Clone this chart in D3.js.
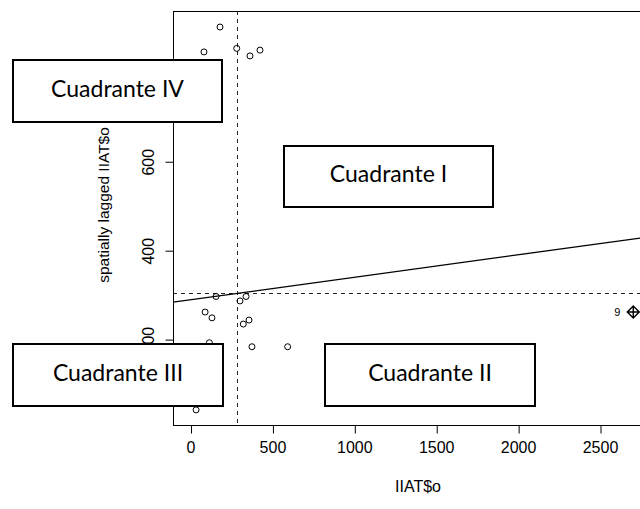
<!DOCTYPE html>
<html>
<head>
<meta charset="utf-8">
<script src="https://cdn.jsdelivr.net/npm/d3@7"></script>
<style>
  html, body { margin: 0; padding: 0; background: #fff; }
  svg { display: block; }
</style>
</head>
<body>
<svg id="chart" width="640" height="509"></svg>
<script>
// Moran scatterplot: IIAT$o against its spatial lag
const xValues   = [180, 82, 282, 363, 424, 156, 302, 339, 89, 131, 322, 357, 375, 593, 115, 34];
const lagValues = [903, 847, 855, 838, 851, 297, 287, 297, 262, 249, 235, 244, 184, 184, 193, 42];

// influential observation, drawn with its own symbol and id
const influentialX = [2703];
const influentialLag = [262];
const influentialIds = ["9"];

const meanX = 284;
const meanLag = 305.5;
const fitIntercept = 289.5;
const fitSlope = 0.0506;

const xTicks = [0, 500, 1000, 1500, 2000, 2500];
const yTicks = [200, 400, 600];
const xTitle = "IIAT$o";
const yTitle = "spatially lagged IIAT$o";

const quadrants = [
  { label: "Cuadrante IV",  x0: 13,  x1: 222, y0: 60,  y1: 122 },
  { label: "Cuadrante I",   x0: 284, x1: 493, y0: 146, y1: 207 },
  { label: "Cuadrante III", x0: 13,  x1: 223, y0: 344, y1: 406 },
  { label: "Cuadrante II",  x0: 325, x1: 535, y0: 344, y1: 406 }
];

const svg = d3.select("#chart");
const plotLeft = 173, plotRight = 648, plotTop = 11, plotBottom = 425;

const x = d3.scaleLinear().domain([-107, 2793]).range([plotLeft, plotRight]);
const y = d3.scaleLinear().domain([8, 939]).range([plotBottom, plotTop]);

const axisFont = "'Liberation Sans', Arial, sans-serif";

svg.append("rect").attr("width", 640).attr("height", 509).attr("fill", "#fff");

const clip = svg.append("defs").append("clipPath").attr("id", "plotclip");
clip.append("rect").attr("x", plotLeft).attr("y", plotTop)
  .attr("width", plotRight - plotLeft).attr("height", plotBottom - plotTop);

const plot = svg.append("g").attr("clip-path", "url(#plotclip)");

// reference lines at the means
plot.append("line")
  .attr("x1", Math.round(x(meanX)) + 0.5).attr("x2", Math.round(x(meanX)) + 0.5)
  .attr("y1", plotTop).attr("y2", plotBottom)
  .attr("stroke", "#222").attr("stroke-width", 1).attr("stroke-dasharray", "4,4");
plot.append("line")
  .attr("x1", plotLeft).attr("x2", plotRight)
  .attr("y1", Math.round(y(meanLag)) + 0.5).attr("y2", Math.round(y(meanLag)) + 0.5)
  .attr("stroke", "#222").attr("stroke-width", 1).attr("stroke-dasharray", "4,4");

// fitted regression line
const xd = x.domain();
plot.append("line")
  .attr("x1", x(xd[0])).attr("y1", y(fitIntercept + fitSlope * xd[0]))
  .attr("x2", x(xd[1])).attr("y2", y(fitIntercept + fitSlope * xd[1]))
  .attr("stroke", "#000").attr("stroke-width", 1.2);

// observations
plot.selectAll("circle.obs")
  .data(xValues.map((v, i) => [v, lagValues[i]]))
  .join("circle")
  .attr("class", "obs")
  .attr("cx", d => x(d[0])).attr("cy", d => y(d[1]))
  .attr("r", 3)
  .attr("fill", "none").attr("stroke", "#000").attr("stroke-width", 1);

// influential point: diamond with cross
const infl = influentialX.map((v, i) => ({ x: v, y: influentialLag[i], id: influentialIds[i] }));
const dg = svg.selectAll("g.infl").data(infl).join("g")
  .attr("class", "infl")
  .attr("transform", d => `translate(${x(d.x)},${y(d.y)})`);
const s = 6;
dg.append("path")
  .attr("d", `M0,${-s}L${s},0L0,${s}L${-s},0Z M0,${-s}V${s} M${-s},0H${s}`)
  .attr("fill", "none").attr("stroke", "#000").attr("stroke-width", 1.4);
dg.append("text")
  .attr("x", -13).attr("y", 4)
  .attr("text-anchor", "end")
  .attr("font-family", axisFont).attr("font-size", 11)
  .text(d => d.id);

// plot frame
svg.append("rect")
  .attr("x", plotLeft + 0.5).attr("y", plotTop + 0.5)
  .attr("width", plotRight - plotLeft).attr("height", plotBottom - plotTop)
  .attr("fill", "none").attr("stroke", "#000").attr("stroke-width", 1);

// x axis
const xAxis = svg.append("g")
  .attr("transform", `translate(0,${plotBottom + 0.5})`)
  .call(d3.axisBottom(x).tickValues(xTicks).tickSize(8).tickPadding(8).tickFormat(d3.format("d")));
xAxis.select(".domain").remove();
xAxis.selectAll("line").attr("stroke", "#000").attr("transform", "translate(0.5,0)");
xAxis.selectAll("text").attr("font-family", axisFont).attr("font-size", 16).attr("fill", "#000");

// y axis, labels parallel to the axis
const yAxis = svg.append("g")
  .attr("transform", `translate(${plotLeft + 0.5},0)`)
  .call(d3.axisLeft(y).tickValues(yTicks).tickSize(8).tickFormat(d3.format("d")));
yAxis.select(".domain").remove();
yAxis.selectAll("line").attr("stroke", "#000");
yAxis.selectAll("text")
  .attr("font-family", axisFont).attr("font-size", 16).attr("fill", "#000")
  .attr("x", null).attr("dy", null)
  .attr("text-anchor", "middle")
  .attr("transform", "translate(-20,0) rotate(-90)");

// axis titles
svg.append("text")
  .attr("x", 418).attr("y", 492)
  .attr("text-anchor", "middle")
  .attr("font-family", axisFont).attr("font-size", 16)
  .text(xTitle);
svg.append("text")
  .attr("transform", "translate(109,205) rotate(-90)")
  .attr("text-anchor", "middle")
  .attr("font-family", axisFont).attr("font-size", 15.5)
  .text(yTitle);

// quadrant annotation boxes
const qg = svg.selectAll("g.quad").data(quadrants).join("g").attr("class", "quad");
qg.append("rect")
  .attr("x", d => d.x0).attr("y", d => d.y0)
  .attr("width", d => d.x1 - d.x0).attr("height", d => d.y1 - d.y0)
  .attr("fill", "#fff").attr("stroke", "#000").attr("stroke-width", 2);
qg.append("text")
  .attr("x", d => (d.x0 + d.x1) / 2)
  .attr("y", d => (d.y0 + d.y1) / 2 + 5.5)
  .attr("text-anchor", "middle")
  .attr("font-family", "Lato, 'Open Sans', sans-serif")
  .attr("font-size", 23)
  .attr("fill", "#000")
  .text(d => d.label);
</script>
</body>
</html>
